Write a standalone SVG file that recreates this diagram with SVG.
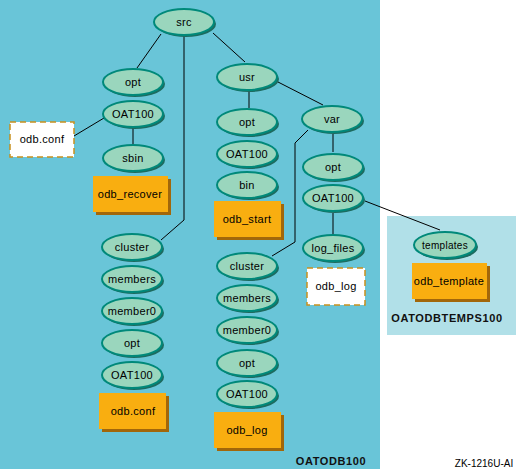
<svg xmlns="http://www.w3.org/2000/svg" width="516" height="470" viewBox="0 0 516 470">
<defs>
<style>
.n ellipse.s{fill:#1d6b5f}
.n ellipse.e{fill:#9ad6bd;stroke:#00897a;stroke-width:2}
.n text,.b text,.d text{font-family:"Liberation Sans",Arial,sans-serif;font-size:11px;fill:#000;text-anchor:middle;letter-spacing:0.3px}
.b rect.s{fill:#a2670a}
.b rect.f{fill:#f9ae10}
.d rect{fill:#fff;stroke:#c8901e;stroke-width:1.5;stroke-dasharray:6,4}
.c path{fill:none;stroke:#000;stroke-width:1}
.lbl{font-family:"Liberation Sans",Arial,sans-serif;font-weight:bold;font-size:11px;fill:#111;text-anchor:middle;letter-spacing:0.6px}
</style>
</defs>
<rect x="0" y="0" width="380" height="469" fill="#69c5d8"/>
<rect x="387" y="216" width="129" height="119" fill="#b1e0e8"/>
<g class="c" id="connectors">
<path d="M161,34 L137,68"/>
<path d="M184,36 L184,220 L161,240"/>
<path d="M213,33 L245,62"/>
<path d="M104,118 L74,136"/>
<path d="M133,128 L133,144"/>
<path d="M249,91 L249,108"/>
<path d="M278,82 L323,105"/>
<path d="M308,130 L295,143 L295,242 L272,256"/>
<path d="M333,134 L333,152"/>
<path d="M365,201 L440,230"/>
<path d="M333,213 L333,234"/>
</g>
<g class="n" id="src"><ellipse class="s" cx="186" cy="24" rx="30" ry="13"/><ellipse class="e" cx="184" cy="22" rx="30" ry="13"/><text x="184" y="26">src</text></g>
<g class="n" id="opt1"><ellipse class="s" cx="135" cy="84" rx="30" ry="13"/><ellipse class="e" cx="133" cy="82" rx="30" ry="13"/><text x="133" y="86">opt</text></g>
<g class="n" id="oat1"><ellipse class="s" cx="135" cy="116" rx="30" ry="13"/><ellipse class="e" cx="133" cy="114" rx="30" ry="13"/><text x="133" y="118">OAT100</text></g>
<g class="n" id="sbin"><ellipse class="s" cx="135" cy="160" rx="30" ry="13"/><ellipse class="e" cx="133" cy="158" rx="30" ry="13"/><text x="133" y="162">sbin</text></g>
<g class="b" id="odb_recover"><rect class="s" x="96" y="179" width="75" height="36"/><rect class="f" x="93" y="176" width="75" height="36"/><text x="130" y="198">odb_recover</text></g>
<g class="d" id="odbconf1"><rect x="10" y="122" width="64" height="35"/><text x="42" y="143">odb.conf</text></g>
<g class="n" id="usr"><ellipse class="s" cx="249" cy="79" rx="30" ry="13"/><ellipse class="e" cx="247" cy="77" rx="30" ry="13"/><text x="247" y="81">usr</text></g>
<g class="n" id="opt2"><ellipse class="s" cx="249" cy="124" rx="30" ry="13"/><ellipse class="e" cx="247" cy="122" rx="30" ry="13"/><text x="247" y="126">opt</text></g>
<g class="n" id="oat2"><ellipse class="s" cx="249" cy="156" rx="30" ry="13"/><ellipse class="e" cx="247" cy="154" rx="30" ry="13"/><text x="247" y="158">OAT100</text></g>
<g class="n" id="bin"><ellipse class="s" cx="249" cy="187" rx="30" ry="13"/><ellipse class="e" cx="247" cy="185" rx="30" ry="13"/><text x="247" y="189">bin</text></g>
<g class="b" id="odb_start"><rect class="s" x="217" y="204" width="67" height="36"/><rect class="f" x="214" y="201" width="67" height="36"/><text x="247" y="223">odb_start</text></g>
<g class="n" id="var"><ellipse class="s" cx="334" cy="121" rx="30" ry="13"/><ellipse class="e" cx="332" cy="119" rx="30" ry="13"/><text x="332" y="123">var</text></g>
<g class="n" id="opt3"><ellipse class="s" cx="335" cy="169" rx="30" ry="13"/><ellipse class="e" cx="333" cy="167" rx="30" ry="13"/><text x="333" y="171">opt</text></g>
<g class="n" id="oat3"><ellipse class="s" cx="335" cy="200" rx="30" ry="13"/><ellipse class="e" cx="333" cy="198" rx="30" ry="13"/><text x="333" y="202">OAT100</text></g>
<g class="n" id="log_files"><ellipse class="s" cx="335" cy="250" rx="30" ry="13"/><ellipse class="e" cx="333" cy="248" rx="30" ry="13"/><text x="333" y="252">log_files</text></g>
<g class="d" id="odblog1"><rect x="307" y="268" width="58" height="37"/><text x="336" y="290">odb_log</text></g>
<g class="n" id="templates"><ellipse class="s" cx="447" cy="247" rx="31" ry="13"/><ellipse class="e" cx="445" cy="245" rx="31" ry="13"/><text x="445" y="249" style="font-size:10px">templates</text></g>
<g class="b" id="odb_template"><rect class="s" x="415" y="266" width="75" height="36"/><rect class="f" x="412" y="263" width="75" height="36"/><text x="449" y="285">odb_template</text></g>
<g class="n" id="cluster1"><ellipse class="s" cx="134" cy="249" rx="30" ry="13"/><ellipse class="e" cx="132" cy="247" rx="30" ry="13"/><text x="132" y="251">cluster</text></g>
<g class="n" id="members1"><ellipse class="s" cx="134" cy="281" rx="30" ry="13"/><ellipse class="e" cx="132" cy="279" rx="30" ry="13"/><text x="132" y="283">members</text></g>
<g class="n" id="member0_1"><ellipse class="s" cx="134" cy="313" rx="30" ry="13"/><ellipse class="e" cx="132" cy="311" rx="30" ry="13"/><text x="132" y="315">member0</text></g>
<g class="n" id="opt4"><ellipse class="s" cx="134" cy="345" rx="30" ry="13"/><ellipse class="e" cx="132" cy="343" rx="30" ry="13"/><text x="132" y="347">opt</text></g>
<g class="n" id="oat4"><ellipse class="s" cx="134" cy="377" rx="30" ry="13"/><ellipse class="e" cx="132" cy="375" rx="30" ry="13"/><text x="132" y="379">OAT100</text></g>
<g class="b" id="odbconf2"><rect class="s" x="102" y="396" width="67" height="36"/><rect class="f" x="99" y="393" width="67" height="36"/><text x="133" y="415">odb.conf</text></g>
<g class="n" id="cluster2"><ellipse class="s" cx="249" cy="268" rx="30" ry="13"/><ellipse class="e" cx="247" cy="266" rx="30" ry="13"/><text x="247" y="270">cluster</text></g>
<g class="n" id="members2"><ellipse class="s" cx="249" cy="300" rx="30" ry="13"/><ellipse class="e" cx="247" cy="298" rx="30" ry="13"/><text x="247" y="302">members</text></g>
<g class="n" id="member0_2"><ellipse class="s" cx="249" cy="332" rx="30" ry="13"/><ellipse class="e" cx="247" cy="330" rx="30" ry="13"/><text x="247" y="334">member0</text></g>
<g class="n" id="opt5"><ellipse class="s" cx="249" cy="365" rx="30" ry="13"/><ellipse class="e" cx="247" cy="363" rx="30" ry="13"/><text x="247" y="367">opt</text></g>
<g class="n" id="oat5"><ellipse class="s" cx="249" cy="396" rx="30" ry="13"/><ellipse class="e" cx="247" cy="394" rx="30" ry="13"/><text x="247" y="398">OAT100</text></g>
<g class="b" id="odblog2"><rect class="s" x="217" y="415" width="67" height="36"/><rect class="f" x="214" y="412" width="67" height="36"/><text x="247" y="434">odb_log</text></g>
<text class="lbl" x="447" y="322">OATODBTEMPS100</text>
<text class="lbl" x="331" y="465">OATODB100</text>
<text x="484" y="467" style="font-family:'Liberation Sans',Arial,sans-serif;font-size:10px;text-anchor:middle;fill:#000">ZK-1216U-AI</text>
</svg>
